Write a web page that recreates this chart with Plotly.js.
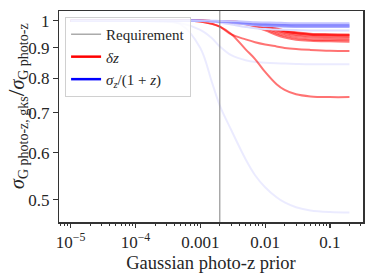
<!DOCTYPE html>
<html>
<head>
<meta charset="utf-8">
<script src="https://cdn.plot.ly/plotly-3.0.1.min.js"></script>
<style>html,body{margin:0;padding:0;background:#fff;}#chart{width:374px;height:273px;}</style>
</head>
<body>
<div id="chart"></div>
<script>
// Gaussian photo-z prior values (x)
const priors = [1e-5, 2e-5, 5e-5, 1e-4, 2e-4, 5e-4, 1e-3, 1.5e-3, 2e-3, 3e-3, 5e-3, 7e-3, 1e-2, 1.5e-2, 2e-2, 3e-2, 5e-2, 0.1, 0.2];
const requirement = 0.002;

// delta z series
const dz1 = [1, 1, 1, 1, 1, 1, 0.997, 0.988, 0.977, 0.950, 0.895, 0.862, 0.820, 0.782, 0.765, 0.752, 0.746, 0.744, 0.744];
const dz2 = [1, 1, 1, 1, 1, 1, 0.997, 0.988, 0.977, 0.948, 0.930, 0.920, 0.912, 0.905, 0.900, 0.896, 0.893, 0.890, 0.889];
const dz3 = [1, 1, 1, 1, 1, 1, 1, 0.999, 0.998, 0.997, 0.994, 0.989, 0.981, 0.971, 0.963, 0.956, 0.951, 0.949, 0.948];
const dz4 = [1, 1, 1, 1, 1, 1, 1, 0.999, 0.998, 0.996, 0.993, 0.987, 0.979, 0.968, 0.960, 0.953, 0.949, 0.947, 0.946];
const dz5 = [1, 1, 1, 1, 1, 1, 1, 0.999, 0.998, 0.996, 0.993, 0.987, 0.978, 0.967, 0.959, 0.952, 0.947, 0.945, 0.944];
const dz6 = [1, 1, 1, 1, 1, 1, 1, 0.999, 0.998, 0.996, 0.992, 0.985, 0.975, 0.963, 0.955, 0.948, 0.943, 0.941, 0.940];
const dz7 = [1, 1, 1, 1, 1, 1, 1, 0.999, 0.997, 0.995, 0.991, 0.983, 0.972, 0.958, 0.950, 0.942, 0.937, 0.935, 0.934];
const dz8 = [1, 1, 1, 1, 1, 1, 1, 0.999, 0.997, 0.994, 0.989, 0.980, 0.968, 0.952, 0.943, 0.935, 0.930, 0.928, 0.928];
const dz9 = [1, 1, 1, 1, 1, 1, 1, 0.998, 0.996, 0.992, 0.986, 0.976, 0.963, 0.946, 0.937, 0.929, 0.925, 0.923, 0.922];

// sigma_z/(1+z) series
const sz1 = [1, 1, 1, 0.999, 0.997, 0.990, 0.965, 0.935, 0.905, 0.875, 0.858, 0.852, 0.850, 0.848, 0.847, 0.846, 0.845, 0.845, 0.845];
const sz2 = [1, 1, 1, 0.999, 0.998, 0.985, 0.900, 0.790, 0.720, 0.655, 0.585, 0.550, 0.525, 0.505, 0.495, 0.486, 0.480, 0.477, 0.476];
const sz3 = [1, 1, 1, 1, 1, 1, 1, 1, 0.999, 0.998, 0.996, 0.994, 0.993, 0.992, 0.991, 0.990, 0.990, 0.990, 0.990];
const sz4 = [1, 1, 1, 1, 1, 1, 1, 0.999, 0.998, 0.996, 0.992, 0.989, 0.987, 0.986, 0.985, 0.984, 0.984, 0.984, 0.984];
const sz5 = [1, 1, 1, 1, 1, 1, 1, 0.998, 0.997, 0.994, 0.989, 0.985, 0.982, 0.981, 0.980, 0.979, 0.979, 0.979, 0.979];
const sz6 = [1, 1, 1, 1, 1, 1, 1, 0.998, 0.996, 0.992, 0.986, 0.982, 0.979, 0.978, 0.977, 0.976, 0.976, 0.976, 0.976];
const sz7 = [1, 1, 1, 1, 1, 1, 0.999, 0.996, 0.992, 0.985, 0.976, 0.971, 0.968, 0.966, 0.965, 0.964, 0.963, 0.963, 0.963];

const yTickVals = [0.5, 0.6, 0.7, 0.8, 0.9, 1];
const yTickText = ["0.5", "0.6", "0.7", "0.8", "0.9", "1"];
const xTickVals = [1e-5, 1e-4, 1e-3, 1e-2, 0.1];
const xTickText = ["10<sup>−5</sup>", "10<sup>−4</sup>", "0.001", "0.01", "0.1"];

const serif = "Liberation Serif";
const ink = "#262626";

const minorVals = [];
for (let e = -6; e <= 0; e++) for (let m = 2; m <= 9; m++) minorVals.push(m * Math.pow(10, e));

function ln(y, color, w) {
  return {x: priors, y: y, type: "scatter", mode: "lines", showlegend: false, hoverinfo: "skip",
          line: {color: color, width: w, shape: "spline", smoothing: 1}};
}
const faintBlue = "rgba(0,0,255,0.08)";
const red = "rgba(255,0,0,0.55)";

const traces = [
  ln(sz2, faintBlue, 2), ln(sz1, faintBlue, 2),
  ln(dz1, red, 2), ln(dz2, red, 2),
  ln(dz9, red, 2), ln(dz8, red, 2), ln(dz7, red, 2), ln(dz6, red, 2), ln(dz5, red, 2), ln(dz4, red, 2), ln(dz3, red, 2),
  ln(sz7, "#dcdcff", 2), ln(sz6, "#b4b4ff", 2), ln(sz5, "#9090ff", 2), ln(sz4, "#8080ff", 2), ln(sz3, "#c4c4ff", 2),
  {x: [null], y: [null], type: "scatter", mode: "lines", name: "Requirement", line: {color: "#808080", width: 1}},
  {x: [null], y: [null], type: "scatter", mode: "lines", name: "<i>δz</i>", line: {color: "red", width: 2.5}},
  {x: [null], y: [null], type: "scatter", mode: "lines", name: "<i>σ<sub>z</sub></i>/(1 + <i>z</i>)", line: {color: "blue", width: 2.5}}
];

const layout = {
  width: 374, height: 273,
  margin: {l: 59, r: 11, t: 11, b: 51},
  paper_bgcolor: "#fff", plot_bgcolor: "#fff",
  showlegend: true,
  font: {family: serif, size: 17, color: ink},
  xaxis: {
    type: "log", range: [-5.18, -0.49], showgrid: false, zeroline: false,
    showline: true, mirror: true, linecolor: "#333", linewidth: 1.5,
    ticks: "outside", ticklen: 4.5, tickwidth: 1.2, tickcolor: "#333",
    tickmode: "array", tickvals: xTickVals, ticktext: xTickText,
    tickfont: {family: serif, size: 17, color: ink},
    minor: {tickmode: "array", tickvals: minorVals, ticks: "outside", ticklen: 2.5, tickwidth: 1, tickcolor: "#333", showgrid: false},
    title: {text: "Gaussian photo-z prior", font: {family: serif, size: 18.5, color: ink}, standoff: 4},
    automargin: false
  },
  yaxis: {
    type: "log", range: [Math.log10(0.459), Math.log10(1.038)], showgrid: false, zeroline: false,
    showline: true, mirror: true, linecolor: "#333", linewidth: 1.5,
    ticks: "outside", ticklen: 4.5, tickwidth: 1.2, tickcolor: "#333",
    tickmode: "array", tickvals: yTickVals, ticktext: yTickText,
    tickfont: {family: serif, size: 17, color: ink},
    automargin: false
  },
  shapes: [{type: "line", xref: "x", yref: "paper", x0: requirement, x1: requirement, y0: 0, y1: 1,
            line: {color: "#808080", width: 1}, layer: "above"}],
  annotations: [{
    xref: "paper", yref: "paper", x: -0.138, y: 0.55, xanchor: "center", yanchor: "middle",
    textangle: -90, showarrow: false,
    text: "<i>σ</i><sub>G photo-z, gks</sub><span style='font-size:24px'>/</span><i>σ</i><sub>G photo-z</sub>",
    font: {family: serif, size: 20, color: ink}
  }],
  legend: {
    x: 0.02, y: 0.972, xanchor: "left", yanchor: "top",
    bgcolor: "rgba(255,255,255,0.8)", bordercolor: "#d0d0d0", borderwidth: 1,
    font: {family: serif, size: 15, color: ink}, tracegroupgap: 0, itemwidth: 30
  }
};

Plotly.newPlot("chart", traces, layout, {staticPlot: true, displayModeBar: false});
</script>
</body>
</html>
